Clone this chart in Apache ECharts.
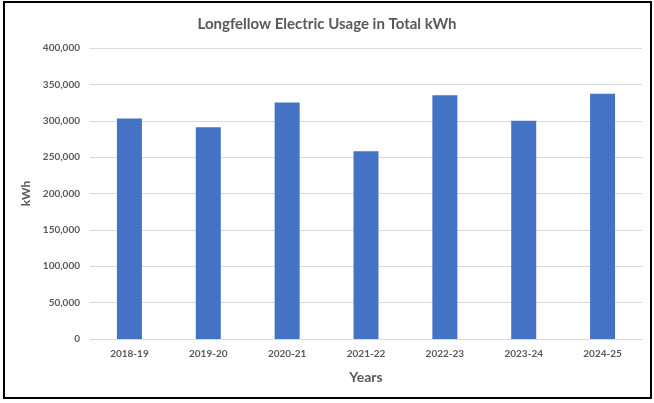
<!DOCTYPE html>
<html>
<head>
<meta charset="utf-8">
<script src="https://cdn.jsdelivr.net/npm/echarts@6/dist/echarts.min.js"></script>
<style>
html,body{margin:0;padding:0;background:#fff;}
#chart{width:654px;height:403px;}
</style>
</head>
<body>
<div id="chart"></div>
<script>
const categories = ['2018-19','2019-20','2020-21','2021-22','2022-23','2023-24','2024-25'];
const usage = [303000, 291000, 325000, 258000, 335000, 300000, 337000];
const yTicks = {min: 0, max: 400000, interval: 50000};

const chart = echarts.init(document.getElementById('chart'), null, {renderer: 'canvas'});
const font = 'Lato, "Open Sans", sans-serif';
chart.setOption({
  backgroundColor: '#fff',
  animation: false,
  title: {
    text: 'Longfellow Electric Usage in Total kWh',
    left: 'center', top: 12,
    textStyle: {fontFamily: font, fontSize: 15, fontWeight: 'bold', color: '#595959'}
  },
  graphic: [{
    type: 'rect', silent: true,
    shape: {x: 4, y: 2, width: 647, height: 396},
    style: {fill: 'none', stroke: '#000', lineWidth: 2}
  }],
  grid: {left: 90, right: 12, top: 48, bottom: 64, containLabel: false},
  xAxis: {
    type: 'category', data: categories,
    name: 'Years', nameLocation: 'middle', nameGap: 31,
    nameTextStyle: {fontFamily: font, fontSize: 14, fontWeight: 'bold', color: '#595959'},
    axisLine: {lineStyle: {color: '#d9d9d9', width: 1}},
    axisTick: {show: false},
    axisLabel: {fontFamily: font, fontSize: 10, fontWeight: 'bold', color: '#595959', margin: 10}
  },
  yAxis: {
    type: 'value', min: yTicks.min, max: yTicks.max, interval: yTicks.interval,
    name: 'kWh', nameLocation: 'middle', nameGap: 53, nameRotate: 90,
    nameTextStyle: {fontFamily: font, fontSize: 12, fontWeight: 'bold', color: '#595959'},
    axisLine: {show: false}, axisTick: {show: false},
    splitLine: {lineStyle: {color: '#d9d9d9', width: 1}},
    axisLabel: {
      fontFamily: font, fontSize: 10, fontWeight: 'bold', color: '#595959', margin: 10,
      formatter: v => v.toLocaleString('en-US')
    }
  },
  series: [{
    type: 'bar', data: usage, barWidth: 25,
    itemStyle: {color: '#4472C4'}
  }]
});
</script>
</body>
</html>
